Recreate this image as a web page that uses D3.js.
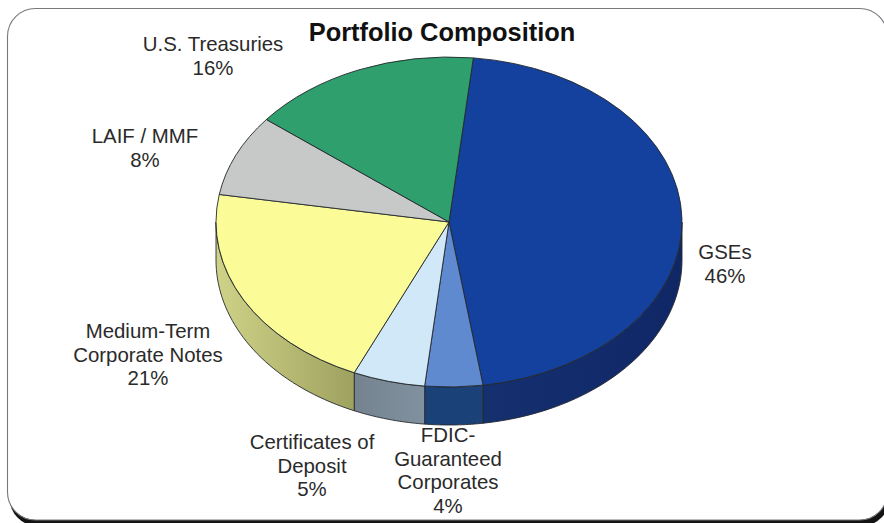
<!DOCTYPE html>
<html>
<head>
<meta charset="utf-8">
<title>Portfolio Composition</title>
<script src="https://cdn.jsdelivr.net/npm/d3@7"></script>
<style>
  html, body { margin: 0; padding: 0; background: #fff; overflow: hidden; }
  svg { display: block; }
  text { font-family: "Liberation Sans", Arial, sans-serif; fill: #2a2a2a; text-anchor: middle; }
</style>
</head>
<body>
<svg id="chart" width="884" height="523"></svg>
<script>
// Portfolio shares, clockwise from the top of the pie
const categories = ["GSEs", "FDIC-Guaranteed Corporates", "Certificates of Deposit",
                    "Medium-Term Corporate Notes", "LAIF / MMF", "U.S. Treasuries"];
const shares = [46, 4, 5, 21, 8, 16];
const labelLines = [
  ["GSEs"],
  ["FDIC-", "Guaranteed", "Corporates"],
  ["Certificates of", "Deposit"],
  ["Medium-Term", "Corporate Notes"],
  ["LAIF / MMF"],
  ["U.S. Treasuries"]
];
const topColors = ["#13419d", "#5f8ad0", "#d0e8f7", "#fbfb98", "#c7c9c9", "#2f9f6e"];
const wallColors = [
  ["#102766", "#15306f"],
  ["#1a4278", "#1a4278"],
  ["#82919f", "#74838f"],
  ["#cfd388", "#9ea25f"]
];

// Where each label block starts and sits: centre x, first baseline
const labelAnchors = [[725, 259], [448, 442], [312, 449], [148, 338], [145, 143], [213, 51]];

const width = 884, height = 523;
const cx = 449, cy = 222, rx = 233, ry = 165, depth = 38;
const startAngle = 6 * Math.PI / 180;
const lineHeight = 23.7;

const svg = d3.select("#chart");
const defs = svg.append("defs");

// Card: a black offset copy peeks out under the white rounded panel
const card = { x: 7.5, y: 8.5, w: 880, h: 511.5, r: 28 };
svg.append("rect").attr("width", width).attr("height", height).attr("fill", "#fff");
svg.append("rect")
  .attr("x", card.x + 2).attr("y", card.y + 6).attr("width", card.w).attr("height", card.h)
  .attr("rx", card.r).attr("fill", "#141414");
svg.append("rect")
  .attr("x", card.x).attr("y", card.y).attr("width", card.w).attr("height", card.h)
  .attr("rx", card.r).attr("fill", "#fff").attr("stroke", "#77797b").attr("stroke-width", 1.1);

const pie = d3.pie().sort(null).value(d => d)
  .startAngle(startAngle).endAngle(startAngle + 2 * Math.PI);
const slices = pie(shares);

// Tilted disc: angle measured clockwise from the top, mapped on to the ellipse
const px = a => cx + rx * Math.sin(a);
const py = a => cy - ry * Math.cos(a);

// Side wall: only the front half of the rim is visible
const wallLine = d3.line();
function wallPath(a0, a1) {
  const steps = d3.range(0, 41).map(i => a0 + (a1 - a0) * i / 40);
  const upper = steps.map(a => [px(a), py(a)]);
  const lower = steps.slice().reverse().map(a => [px(a), py(a) + depth]);
  return wallLine(upper.concat(lower)) + "Z";
}

const walls = svg.append("g");
slices.forEach((s, i) => {
  const a0 = Math.max(s.startAngle, Math.PI / 2);
  const a1 = Math.min(s.endAngle, 3 * Math.PI / 2);
  if (a1 <= a0) return;
  const id = "wall" + i;
  const grad = defs.append("linearGradient").attr("id", id)
    .attr("gradientUnits", "userSpaceOnUse")
    .attr("x1", px(a0)).attr("x2", px(a1)).attr("y1", 0).attr("y2", 0);
  grad.append("stop").attr("offset", 0).attr("stop-color", wallColors[i][0]);
  grad.append("stop").attr("offset", 1).attr("stop-color", wallColors[i][1]);
  // Left-hand wall runs light to dark towards the front
  if (i === 3) {
    grad.attr("x1", px(a1)).attr("x2", px(a0));
  }
  walls.append("path")
    .attr("d", wallPath(a0, a1))
    .attr("fill", `url(#${id})`)
    .attr("stroke", "#25282c").attr("stroke-width", 0.9).attr("stroke-linejoin", "round");
});

// Top face: a flat d3.arc squashed vertically into the ellipse
const arc = d3.arc().innerRadius(0).outerRadius(rx);
svg.append("g")
  .attr("transform", `translate(${cx},${cy}) scale(1,${ry / rx})`)
  .selectAll("path")
  .data(slices)
  .join("path")
  .attr("d", arc)
  .attr("fill", (d, i) => topColors[i])
  .attr("stroke", "#23272b")
  .attr("stroke-width", 0.9)
  .attr("stroke-linejoin", "round")
  .attr("vector-effect", "non-scaling-stroke");

// Title and slice labels
svg.append("text").attr("x", 442).attr("y", 41)
  .attr("font-size", 25.4).attr("font-weight", "bold")
  .style("fill", "#111").text("Portfolio Composition");

const labels = svg.append("g").attr("font-size", 20.4);
categories.forEach((name, i) => {
  const [x, y] = labelAnchors[i];
  const lines = labelLines[i].concat(shares[i] + "%");
  const t = labels.append("text").attr("x", x).attr("y", y);
  lines.forEach((line, k) => {
    t.append("tspan").attr("x", x).attr("dy", k ? lineHeight : 0).text(line);
  });
});
</script>
</body>
</html>
